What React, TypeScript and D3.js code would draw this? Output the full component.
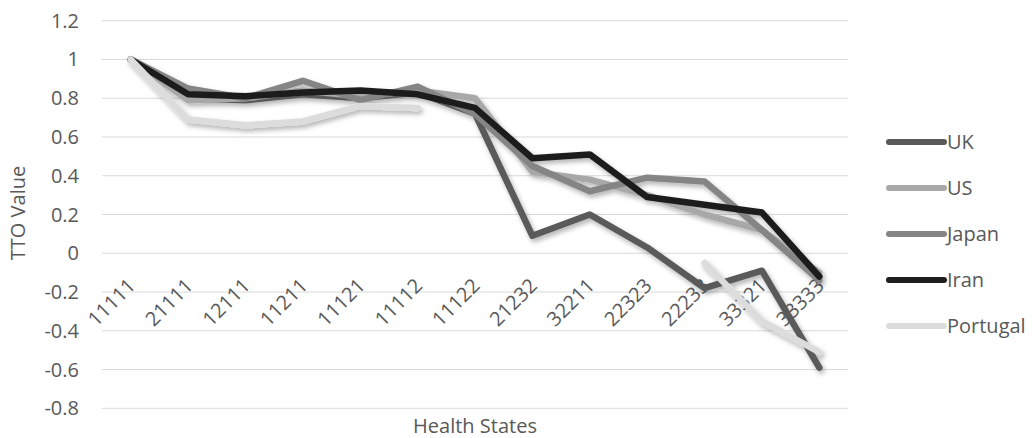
import React, { useEffect, useRef } from 'react';
import * as d3 from 'd3';

const states = ['11111', '21111', '12111', '11211', '11121', '11112', '11122', '21232', '32211', '22323', '22233', '33321', '33333'];
const uk = [1.0, 0.8, 0.79, 0.82, 0.8, 0.83, 0.72, 0.09, 0.2, 0.03, -0.18, -0.09, -0.59];
const us = [1.0, 0.79, 0.8, 0.84, 0.81, 0.84, 0.8, 0.42, 0.38, 0.3, 0.2, 0.12, -0.1];
const japan = [1.0, 0.85, 0.8, 0.89, 0.79, 0.86, 0.72, 0.45, 0.32, 0.39, 0.37, 0.12, -0.14];
const iran = [1.0, 0.82, 0.81, 0.83, 0.84, 0.82, 0.75, 0.49, 0.51, 0.29, 0.25, 0.21, -0.12];
const portugal = [1.0, 0.69, 0.66, 0.68, 0.76, 0.75, null, null, null, null, -0.05, -0.35, -0.51];
const yTicks = [1.2, 1, 0.8, 0.6, 0.4, 0.2, 0, -0.2, -0.4, -0.6, -0.8];

const seriesNames = ['UK', 'US', 'Japan', 'Iran', 'Portugal'];
const seriesColors = ['#5a5a5a', '#a8a8a8', '#858585', '#1e1e1e', '#dcdcdc'];

const App = () => {
  const svgRef = useRef(null);
  useEffect(() => {
    const svg = d3.select(svgRef.current);
    svg.selectAll('*').remove();
    const font = '"Open Sans", "Noto Sans", sans-serif';
    const textColor = '#595959';
    const fs = 20;

    const x = d3.scalePoint().domain(states).range([102, 848]).padding(0.5);
    const y = d3.scaleLinear().domain([-0.8, 1.2]).range([408.3, 20.7]);

    const defs = svg.append('defs');
    defs.append('filter').attr('id', 'shadow').attr('x', '-10%').attr('y', '-10%').attr('width', '120%').attr('height', '130%')
      .append('feDropShadow').attr('dx', 2).attr('dy', 3).attr('stdDeviation', 2.5)
      .attr('flood-color', '#000').attr('flood-opacity', 0.3);

    // grid
    svg.append('g').selectAll('line').data(yTicks).enter().append('line')
      .attr('x1', 102).attr('x2', 848)
      .attr('y1', (d) => y(d)).attr('y2', (d) => y(d))
      .attr('stroke', '#d9d9d9').attr('stroke-width', 1);

    svg.append('g').selectAll('text').data(yTicks).enter().append('text')
      .attr('x', 79).attr('y', (d) => y(d)).attr('dy', '0.35em')
      .attr('text-anchor', 'end')
      .attr('font-family', font).attr('font-size', fs).attr('fill', textColor)
      .text((d) => String(d));

    // x labels
    svg.append('g').selectAll('text').data(states).enter().append('text')
      .attr('transform', (d) => `translate(${x(d) + 6}, ${287}) rotate(-45)`)
      .attr('text-anchor', 'end')
      .attr('font-family', font).attr('font-size', fs).attr('fill', textColor)
      .text((d) => d);

    const all = [uk, us, japan, iran, portugal];
    const line = d3.line()
      .defined((d) => d != null)
      .x((d, i) => x(states[i]))
      .y((d) => y(d));

    const lines = svg.append('g').attr('filter', 'url(#shadow)');
    all.forEach((vals, i) => {
      lines.append('path')
        .attr('d', line(vals))
        .attr('fill', 'none')
        .attr('stroke', seriesColors[i])
        .attr('stroke-width', 6.5)
        .attr('stroke-linejoin', 'round')
        .attr('stroke-linecap', 'round');
    });

    // legend
    const legend = svg.append('g');
    seriesNames.forEach((name, i) => {
      const ly = 142 + i * 46;
      legend.append('line')
        .attr('x1', 889).attr('x2', 944).attr('y1', ly).attr('y2', ly)
        .attr('stroke', seriesColors[i]).attr('stroke-width', 6).attr('stroke-linecap', 'round');
      legend.append('text')
        .attr('x', 947).attr('y', ly).attr('dy', '0.35em')
        .attr('font-family', font).attr('font-size', fs).attr('fill', textColor)
        .text(name);
    });

    svg.append('text')
      .attr('x', 475).attr('y', 433)
      .attr('text-anchor', 'middle')
      .attr('font-family', font).attr('font-size', fs).attr('fill', textColor)
      .text('Health States');

    svg.append('text')
      .attr('transform', 'translate(18, 213) rotate(-90)')
      .attr('dy', '0.35em')
      .attr('text-anchor', 'middle')
      .attr('font-family', font).attr('font-size', fs).attr('fill', textColor)
      .text('TTO Value');
  }, []);

  return (
    <svg ref={svgRef} width={1033} height={438}
      style={{ position: 'absolute', left: 0, top: 0, background: '#fff' }} />
  );
};

export default App;
